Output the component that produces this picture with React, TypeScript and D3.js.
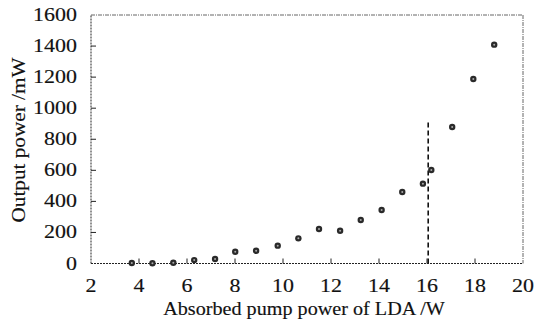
import React from 'react';
import * as d3 from 'd3';

// absorbed pump power (W) and output power (mW)
const pumpPower = [3.7, 4.56, 5.43, 6.3, 7.17, 8.01, 8.88, 9.78, 10.64, 11.5, 12.38, 13.24, 14.11, 14.97, 15.83, 16.18, 17.05, 17.93, 18.8];
const outputPower = [3, 2, 5, 22, 29, 76, 82, 115, 162, 222, 211, 280, 344, 460, 514, 602, 879, 1188, 1409];
const xTicks = [2, 4, 6, 8, 10, 12, 14, 16, 18, 20];
const yTicks = [0, 200, 400, 600, 800, 1000, 1200, 1400, 1600];
// vertical dashed marker
const markerX = 16.05;
const markerTop = 915;

const W = 538;
const H = 327;
const margin = { left: 91, right: 15, top: 15, bottom: 63.5 };
const textStyle = {
  fontFamily: "'Liberation Serif', 'Times New Roman', 'DejaVu Serif', serif",
  fontSize: '18px',
  stroke: '#111',
  strokeWidth: 0.15,
};
const stretch = 1.22; // the original type is a bit wider than Times

const App = () => {
  const x = d3.scaleLinear().domain([2, 20]).range([margin.left, W - margin.right]);
  const y = d3.scaleLinear().domain([0, 1600]).range([H - margin.bottom, margin.top]);
  const [x0, x1] = x.range();
  const [y0, y1] = y.range();

  return (
    <div style={{ position: 'absolute', left: 0, top: 0 }}>
      <svg width={W} height={H} style={{ display: 'block', background: '#fff' }}>
        {/* frame: top and right are light dash-dot, axes dotted */}
        <line x1={x0} y1={y1} x2={x1} y2={y1} stroke="#666" strokeWidth={1} strokeDasharray="4,1,1,1" />
        <line x1={x1} y1={y1} x2={x1} y2={y0} stroke="#666" strokeWidth={1} strokeDasharray="4,1,1,1" />
        <line x1={x0} y1={y0} x2={x1} y2={y0} stroke="#222" strokeWidth={1} strokeDasharray="2,1" />
        <line x1={x0} y1={y0} x2={x0} y2={y1} stroke="#222" strokeWidth={1} strokeDasharray="2,1" />

        {/* x ticks, pointing inward */}
        {xTicks.map(t => (
          <g key={'x' + t}>
            {t > 2 && t < 20 && (
              <line x1={x(t)} x2={x(t)} y1={y0} y2={y0 - 5} stroke="#222" strokeWidth={1} />
            )}
            <text
              transform={`translate(${x(t)},${y0 + 28}) scale(${stretch},1)`}
              textAnchor="middle"
              style={textStyle}
              fill="#111"
            >
              {t}
            </text>
          </g>
        ))}

        {/* y ticks */}
        {yTicks.map(t => (
          <g key={'y' + t}>
            {t > 0 && t < 1600 && (
              <line x1={x0} x2={x0 + 5} y1={y(t)} y2={y(t)} stroke="#222" strokeWidth={1} />
            )}
            <text
              transform={`translate(${x0 - 14},${y(t) + 6}) scale(${stretch},1)`}
              textAnchor="end"
              style={textStyle}
              fill="#111"
            >
              {t}
            </text>
          </g>
        ))}

        {/* axis titles */}
        <text
          transform={`translate(${(x0 + x1) / 2 - 3},315) scale(1.12,1)`}
          textAnchor="middle"
          style={textStyle}
          fill="#111"
        >
          Absorbed pump power of LDA /W
        </text>
        <text
          transform="translate(25,140) rotate(-90) scale(1.18,1)"
          textAnchor="middle"
          style={textStyle}
          fill="#111"
        >
          Output power /mW
        </text>

        {/* dashed vertical line */}
        <line
          x1={x(markerX)}
          x2={x(markerX)}
          y1={y(0)}
          y2={y(markerTop)}
          stroke="#111"
          strokeWidth={1.6}
          strokeDasharray="5,3"
        />

        {/* data points */}
        {pumpPower.map((p, i) => (
          <g key={'p' + i}>
            <circle cx={x(p)} cy={y(outputPower[i])} r={3.2} fill="#2a2a2a" />
            <circle cx={x(p)} cy={y(outputPower[i])} r={1} fill="#aaa" />
          </g>
        ))}
      </svg>
    </div>
  );
};

export default App;
